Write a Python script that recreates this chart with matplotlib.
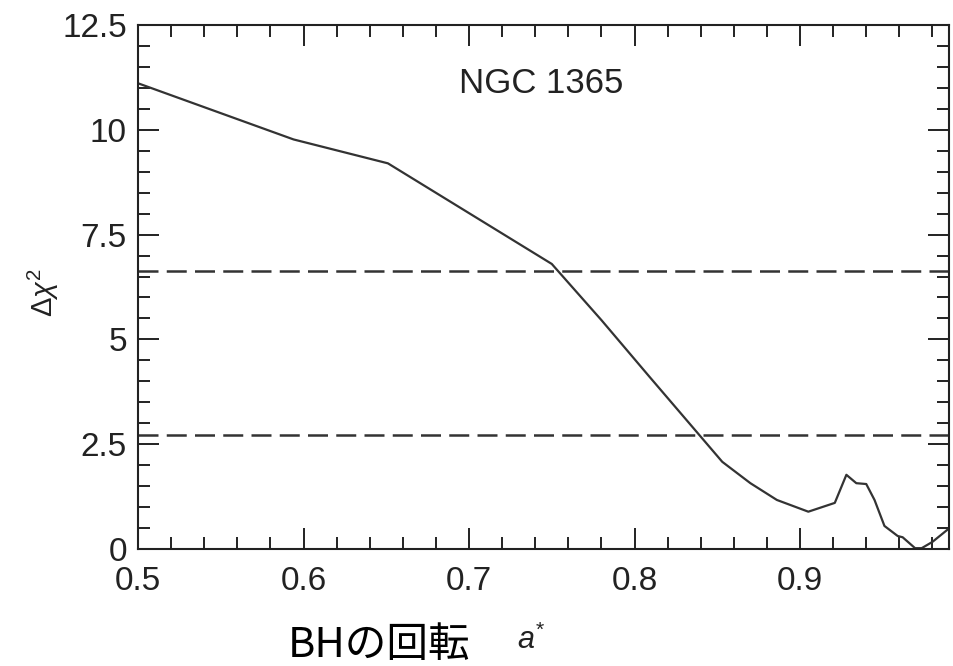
import matplotlib
matplotlib.use("Agg")
import matplotlib.pyplot as plt
from matplotlib.ticker import MultipleLocator

# spin parameter a* vs delta chi^2
a_star = [0.500, 0.594, 0.651, 0.750, 0.780, 0.809, 0.840, 0.853, 0.870,
          0.886, 0.905, 0.921, 0.928, 0.934, 0.940, 0.945, 0.951, 0.959,
          0.962, 0.9695, 0.9735, 0.980, 0.990]
dchi2 = [11.11, 9.77, 9.20, 6.80, 5.46, 4.11, 2.68, 2.08, 1.57,
         1.17, 0.89, 1.10, 1.77, 1.57, 1.55, 1.17, 0.55, 0.31,
         0.28, 0.02, 0.02, 0.17, 0.49]
# confidence levels (90% and 99%)
levels = [2.71, 6.63]

xticks = [0.5, 0.6, 0.7, 0.8, 0.9]
yticks = [0, 2.5, 5, 7.5, 10, 12.5]
ytick_labels = ['0', '2.5', '5', '7.5', '10', '12.5']

plt.rcParams['font.family'] = ['Liberation Sans', 'DejaVu Sans']
plt.rcParams['mathtext.fontset'] = 'custom'
plt.rcParams['mathtext.rm'] = 'Liberation Sans'
plt.rcParams['mathtext.it'] = 'Liberation Sans:italic'

ink = '#222222'

fig = plt.figure(figsize=(9.54, 6.66), dpi=100)
ax = fig.add_axes([138/954, 1-549/666, 811/954, 524/666])

ax.plot(a_star, dchi2, color='#333333', lw=1.6)
for lv in levels:
    ax.axhline(lv, color='#333333', lw=1.8, dashes=(8, 3.3))

ax.set_xlim(0.5, 0.99)
ax.set_ylim(0, 12.5)
ax.set_xticks(xticks)
ax.set_xticklabels([str(t) for t in xticks])
ax.set_yticks(yticks)
ax.set_yticklabels(ytick_labels)
ax.xaxis.set_minor_locator(MultipleLocator(0.02))
ax.yaxis.set_minor_locator(MultipleLocator(0.5))

ax.tick_params(which='both', direction='in', top=True, right=True,
               colors=ink, width=1.4, labelsize=24)
ax.tick_params(which='major', length=15)
ax.tick_params(which='minor', length=8.5)
ax.tick_params(axis='x', which='major', pad=12)
ax.tick_params(axis='y', which='major', pad=8)
for s in ax.spines.values():
    s.set_color(ink)
    s.set_linewidth(1.5)

ax.text(0.4975, 0.889, 'NGC 1365', transform=ax.transAxes, ha='center',
        va='center', fontsize=25, color=ink)

fig.text(43/954, 1-293/666, r'$\Delta\chi^2$', rotation=90, ha='center',
         va='center', fontsize=21, color=ink)
fig.text(288/954, 9/666, 'BHの回転', family=['Noto Sans CJK JP', 'DejaVu Sans'],
         fontsize=30, color='black', ha='left', va='baseline')
fig.text(531/954, 1-640/666, r'$a^{*}$', fontsize=22, color=ink,
         ha='center', va='center')

fig.savefig('out.png', dpi=100)
